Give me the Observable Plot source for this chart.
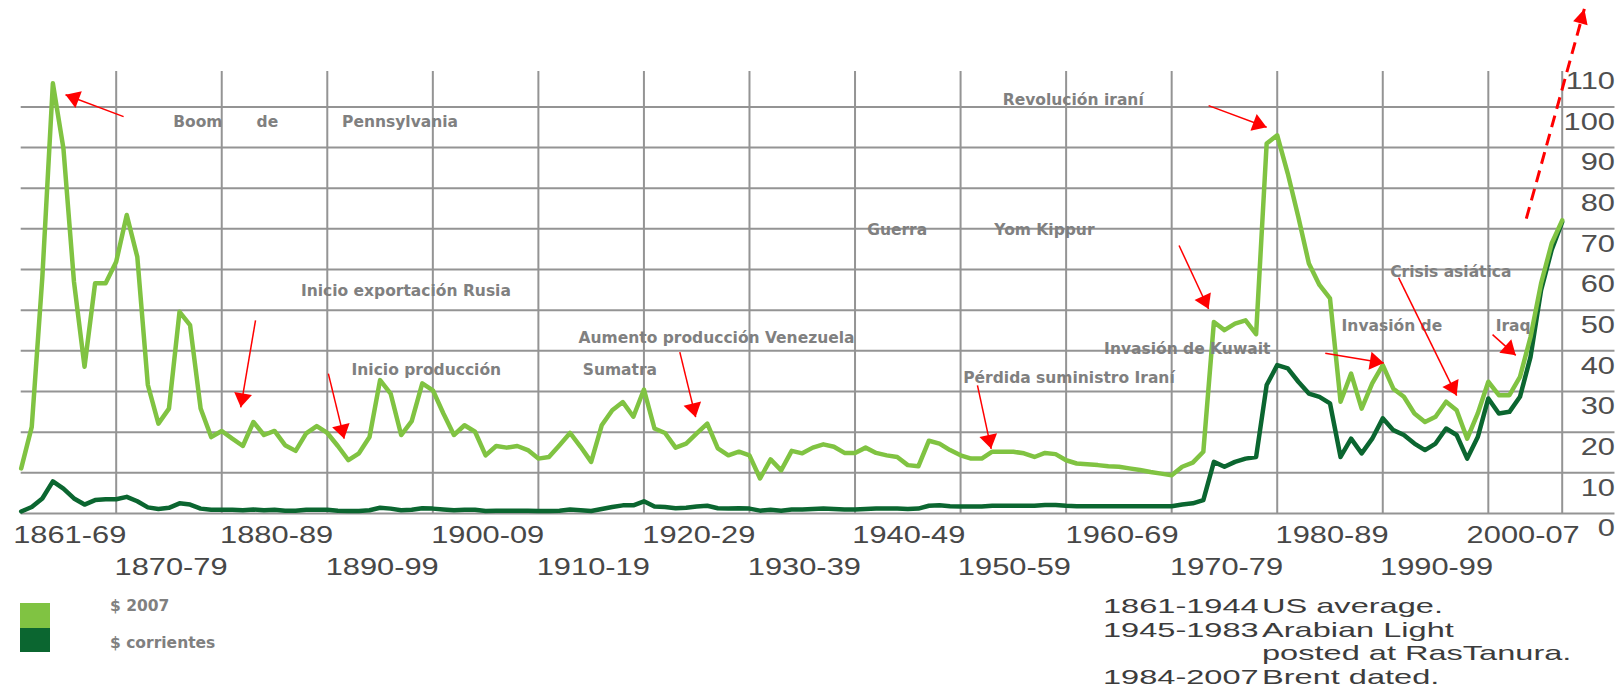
<!DOCTYPE html>
<html><head><meta charset="utf-8">
<script src="https://cdn.jsdelivr.net/npm/d3@7"></script>
<script src="https://cdn.jsdelivr.net/npm/@observablehq/plot@0.6"></script>
<style>
body{margin:0;background:#fff;width:1624px;height:690px;overflow:hidden;}
#chart svg{display:block;}
#foot{position:relative;height:100px;width:1624px;}
.sw{position:absolute;left:20px;width:30px;}
.lg{position:absolute;left:110px;font:bold 15.5px "DejaVu Sans";color:#808080;line-height:18px;white-space:nowrap;}
.note{position:absolute;font:21px "Liberation Sans";color:#3c3c3c;line-height:22px;white-space:nowrap;transform:scaleX(1.55);transform-origin:left center;}
</style></head><body>
<div id="chart"></div>
<div id="foot"></div>
<script>
// ---- data ----
const startYear = 1861;
// $ 2007 (light green), 1861..2007
const real2007 = [
11.1,21.3,58,105.8,89.8,57,36.1,56.6,56.6,61.9,
73.4,63.1,31.6,22.1,25.8,49.6,46.3,25.8,18.8,20.3,
18.4,16.6,22.5,19.3,20.3,16.8,15.4,19.7,21.5,19.8,
16.6,13.1,14.8,18.8,32.8,29.5,19.3,22.7,32.0,30.3,
24.6,19.3,21.7,20.1,14.3,16.6,16.2,16.6,15.6,13.5,
13.9,16.8,19.8,16.4,12.7,21.7,25.4,27.4,23.8,30.5,
20.9,19.8,16.2,17.2,19.7,22.1,16.0,14.3,15.2,14.3,
8.6,13.3,10.6,15.4,14.8,16.2,17.0,16.4,14.9,14.9,
16.2,14.9,14.3,13.9,11.9,11.6,17.9,17.2,15.6,14.3,
13.5,13.5,15.2,15.2,15.2,14.8,13.9,14.9,14.6,13.1,
12.3,12.1,11.9,11.6,11.5,11.1,10.7,10.2,9.8,9.4,
11.5,12.5,15.2,47.1,45.1,46.7,47.5,44.1,91.0,93.0,
83.6,72.9,61.5,56.2,52.9,27.5,34.4,25.8,32.0,36.5,
30.7,28.7,24.6,22.5,23.8,27.5,25.4,18.4,24.6,32.4,
29.1,29.1,33.6,43.4,56.6,66.4,72.1];
// $ corrientes (dark green), 1861..2007
const nominal = [
0.5,1.6,3.7,7.9,6.1,3.7,2.2,3.3,3.5,3.5,
4.1,3.0,1.5,1.1,1.4,2.5,2.2,1.2,0.9,0.9,
0.9,0.8,1.0,0.8,0.9,0.7,0.7,0.9,0.9,0.9,
0.7,0.6,0.6,0.8,1.4,1.2,0.8,0.9,1.3,1.2,
1.0,0.8,0.9,0.9,0.6,0.7,0.7,0.7,0.7,0.6,
0.6,0.7,1.0,0.8,0.6,1.1,1.6,2.0,2.0,3.0,
1.7,1.6,1.3,1.4,1.7,1.9,1.3,1.2,1.3,1.2,
0.7,0.9,0.7,1.0,1.0,1.1,1.2,1.1,1.0,1.0,
1.1,1.2,1.2,1.2,1.1,1.2,1.9,2.0,1.8,1.7,
1.7,1.7,1.9,1.9,1.9,1.9,1.9,2.1,2.1,1.9,
1.8,1.8,1.8,1.8,1.8,1.8,1.8,1.8,1.8,1.8,
2.2,2.5,3.3,12.7,11.5,12.7,13.5,13.9,31.6,36.5,
35.7,32.4,29.5,28.7,27.1,13.9,18.4,14.8,18.4,23.4,
20.5,19.3,17.2,15.6,17.2,20.9,19.3,13.5,18.8,28.3,
24.6,25.0,28.7,38.5,54.9,64.8,71.7];

const gridValues = [0,10,20,30,40,50,60,70,80,90,100];
const yTickLabels = [0,10,20,30,40,50,60,70,80,90,100,110];
const decadeLines = [1870,1880,1890,1900,1910,1920,1930,1940,1950,1960,1970,1980,1990,2000,2007];
const xRow1 = ["1861-69","1880-89","1900-09","1920-29","1940-49","1960-69","1980-89","2000-07"];
const xRow1Center = [1865.6,1885.2,1905.2,1925.2,1945.1,1965.3,1985.2,2003.3];
const xRow2 = ["1870-79","1890-99","1910-19","1930-39","1950-59","1970-79","1990-99"];
const xRow2Center = [1875.2,1895.2,1915.2,1935.2,1955.1,1975.2,1995.1];

const annotations = [
  {t:"Boom", x:1875.4, y:96.2},
  {t:"de", x:1883.3, y:96.2},
  {t:"Pennsylvania", x:1891.4, y:96.2},
  {t:"Revolución iraní", x:1954.0, y:101.6},
  {t:"Guerra", x:1941.15, y:69.6},
  {t:"Yom Kippur", x:1953.2, y:69.6},
  {t:"Inicio exportación Rusia", x:1887.5, y:54.6},
  {t:"Aumento producción Venezuela", x:1913.8, y:43.1},
  {t:"Invasión de Kuwait", x:1963.6, y:40.5},
  {t:"Inicio producción", x:1892.3, y:35.3},
  {t:"Sumatra", x:1914.2, y:35.3},
  {t:"Pérdida suministro Iraní", x:1950.25, y:33.4},
  {t:"Crisis asiática", x:1990.7, y:59.3},
  {t:"Invasión de", x:1986.1, y:46.0},
  {t:"Iraq", x:2000.7, y:46.0}
];
const arrows = [
  {x1:1870.7, y1:97.6, x2:1865.2, y2:103.0},
  {x1:1883.2, y1:47.5, x2:1881.8, y2:26.1},
  {x1:1890.1, y1:34.4, x2:1891.6, y2:18.4},
  {x1:1923.4, y1:39.7, x2:1924.9, y2:23.7},
  {x1:1951.6, y1:31.5, x2:1952.9, y2:15.9},
  {x1:1970.7, y1:65.9, x2:1973.5, y2:50.3},
  {x1:1973.5, y1:100.3, x2:1979.0, y2:95.0},
  {x1:1984.55, y1:39.4, x2:1990.1, y2:37.0},
  {x1:1991.5, y1:58.0, x2:1997.0, y2:29.0},
  {x1:2000.4, y1:44.0, x2:2002.6, y2:38.9}
];
const trendArrow = [{x1:2003.6, y1:72.5, x2:2009.1, y2:124.1}];

const legendLabels = ["$ 2007", "$ corrientes"];
const legendColors = ["#80c342", "#0b6630"];
const noteYears = ["1861-1944", "1945-1983", "", "1984-2007"];
const noteTexts = ["US average.", "Arabian Light", "posted at RasTanura.", "Brent dated."];

// ---- chart ----
const rows = real2007.map((v, i) => ({year: startYear + i, real: v, nominal: nominal[i]}));
const row1 = xRow1.map((t, i) => ({t, x: xRow1Center[i]}));
const row2 = xRow2.map((t, i) => ({t, x: xRow2Center[i]}));
const TICK_FONT = "Liberation Sans";

const svg = Plot.plot({
  width: 1624, height: 590,
  marginLeft: 20.7, marginRight: 62.3, marginTop: 71, marginBottom: 77,
  style: {background: "white", overflow: "visible"},
  x: {domain: [1861, 2007], axis: null},
  y: {domain: [0, 108.7], axis: null},
  marks: [
    Plot.ruleY(gridValues, {x1: 1861, x2: 2012, stroke: "#949494", strokeWidth: 2}),
    Plot.ruleX(decadeLines, {y1: 0, y2: 108.7, stroke: "#949494", strokeWidth: 2}),
    Plot.line(rows, {x: "year", y: "nominal", stroke: legendColors[1], strokeWidth: 4.5, strokeLinejoin: "round"}),
    Plot.line(rows, {x: "year", y: "real", stroke: legendColors[0], strokeWidth: 4.5, strokeLinejoin: "round"}),
    Plot.text(row1, {x: "x", y: 0, dy: 22, text: "t", fontFamily: TICK_FONT, fontSize: 23, fill: "#474747"}),
    Plot.text(row2, {x: "x", y: 0, dy: 54, text: "t", fontFamily: TICK_FONT, fontSize: 23, fill: "#474747"}),
    Plot.text(yTickLabels, {x: 2012, y: d => d, dy: 15.5, text: d => String(d), textAnchor: "end", fontFamily: TICK_FONT, fontSize: 23, fill: "#4f4f4f"}),
    Plot.text(annotations, {x: "x", y: "y", text: "t", textAnchor: "start", fontFamily: "DejaVu Sans", fontWeight: "bold", fontSize: 15.5, fill: "#808080"}),
    Plot.link(arrows, {x1: "x1", y1: "y1", x2: "x2", y2: "y2", stroke: "#ff0000", strokeWidth: 1.5}),
    Plot.link(trendArrow, {x1: "x1", y1: "y1", x2: "x2", y2: "y2", stroke: "#ff0000", strokeWidth: 3, strokeDasharray: "12,7"})
  ]
});
document.getElementById("chart").appendChild(svg);

// arrowheads (filled triangles)
const root = d3.select(svg);
const defs = root.append("defs");
function marker(id, len, half) {
  defs.append("marker").attr("id", id).attr("markerUnits", "userSpaceOnUse")
    .attr("orient", "auto").attr("refX", 0).attr("refY", 0)
    .attr("markerWidth", 1).attr("markerHeight", 1).attr("overflow", "visible")
    .append("path").attr("d", `M0,0L${-len},${-half}L${-len},${half}Z`).attr("fill", "#ff0000");
}
marker("hd", 14, 9);
marker("hdDash", 15, 7.5);
root.selectAll('g[aria-label="link"]').each(function() {
  const dashed = this.getAttribute("stroke-dasharray");
  d3.select(this).selectAll("path").attr("marker-end", dashed ? "url(#hdDash)" : "url(#hd)");
});

// horizontally stretched tick labels
root.selectAll('g[aria-label="text"]').filter(function() {
  return (this.getAttribute("font-family") || "").includes("Liberation");
}).selectAll("text").each(function() {
  const x = +this.getAttribute("x") || 0, y = +this.getAttribute("y") || 0;
  const t = this.getAttribute("transform") || "";
  this.setAttribute("transform", `${t} translate(${x},${y}) scale(1.34,1) translate(${-x},${-y})`);
});

// ---- legend & notes ----
const foot = d3.select("#foot");
legendColors.forEach((c, i) => {
  foot.append("div").attr("class", "sw").style("top", (13 + i * 25) + "px").style("height", (i ? 24 : 25) + "px").style("background", c);
});
legendLabels.forEach((t, i) => {
  foot.append("div").attr("class", "lg").style("top", (i ? 44 : 7) + "px").text(t);
});
noteYears.forEach((y, i) => {
  const top = 5 + i * 23.7;
  if (y) foot.append("div").attr("class", "note").style("left", "1103px").style("top", top + "px").text(y);
  foot.append("div").attr("class", "note").style("left", "1262px").style("top", top + "px").text(noteTexts[i]);
});
</script>
</body></html>
